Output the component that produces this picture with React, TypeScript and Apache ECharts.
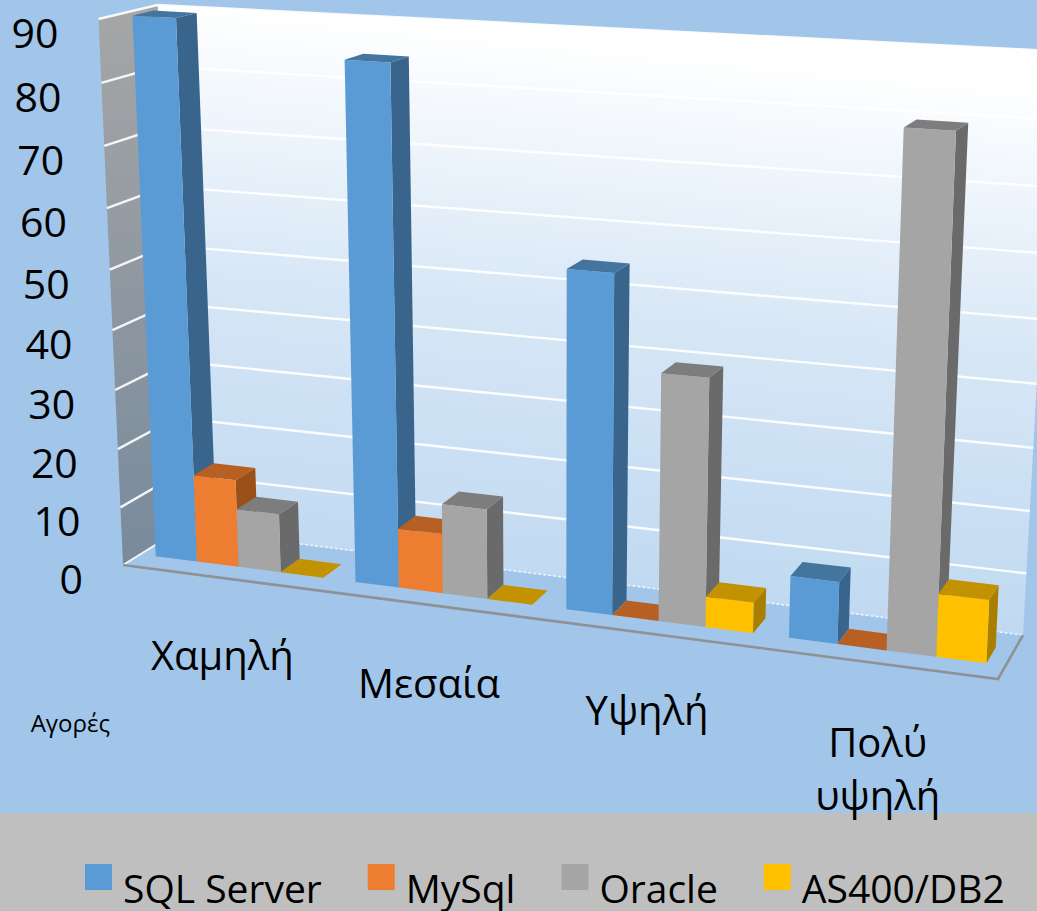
import React, { useEffect, useRef } from "react";
import * as echarts from "echarts";

const categories = ["Χαμηλή", "Μεσαία", "Υψηλή", "Πολύ\nυψηλή"];
const tickValues = [0, 10, 20, 30, 40, 50, 60, 70, 80, 90];
const seriesNames = ["SQL Server", "MySql", "Oracle", "AS400/DB2"];
const sqlServer = [90, 85, 55, 10];
const mySql = [15, 10, 0, 0];
const oracle = [10, 15, 40, 80];
const as400 = [0, 0, 5, 10];
const seriesValues = [sqlServer, mySql, oracle, as400];

const faceColors = [
  { front: "#5B9BD5", top: "#44759F", side: "#39658C" },
  { front: "#ED7D31", top: "#B85F23", side: "#9B5019" },
  { front: "#A5A5A5", top: "#7D7D7D", side: "#6A6A6A" },
  { front: "#FFC000", top: "#C29200", side: "#A87F00" },
];

const FONT = "'Open Sans', 'Noto Sans', sans-serif";
const BG = "#A2C6E9";

// Perspective box of the 3D plot: front/back, left/right, bottom/top corners
const FLB = [123, 565], FRB = [998, 679], FLT = [98.5, 19], FRT = [1022, 71];
const BLB = [181, 529], BRB = [1023, 635], BLT = [157.5, 5], BRT = [1055, 51];
const PERSPECTIVE_U = 1.116;
const PERSPECTIVE_V = 1.06;
const BAR_FRONT = 0.3;
const BAR_BACK = 0.66;
const BAR_SHARE = 1 / 4.75;
const LABEL_DROP = [77, 78, 77, 79];

const mix = (a: number[], b: number[], k: number) => [a[0] + (b[0] - a[0]) * k, a[1] + (b[1] - a[1]) * k];

function project(u: number, t: number, w: number) {
  const uu = u / (PERSPECTIVE_U - (PERSPECTIVE_U - 1) * u);
  const tt = t / (PERSPECTIVE_V - (PERSPECTIVE_V - 1) * t);
  const front = mix(mix(FLB, FRB, uu), mix(FLT, FRT, uu), tt);
  const back = mix(mix(BLB, BRB, uu), mix(BLT, BRT, uu), tt);
  return mix(front, back, w);
}

function toUnit(params: any, p: number[]) {
  const cs = params.coordSys;
  return [(p[0] - cs.x) / cs.width, (cs.y + cs.height - p[1]) / cs.height];
}

const poly = (points: number[][], fill: any, extra: any = {}) => ({
  type: "polygon",
  silent: true,
  shape: { points },
  style: { fill, ...extra },
});

const segment = (points: number[][], stroke: string, lineWidth: number, lineDash?: number[]) => ({
  type: "polyline",
  silent: true,
  shape: { points },
  style: { stroke, lineWidth, fill: "none", lineDash, opacity: 0.9 },
});

function renderStage(params: any, api: any) {
  const ts = tickValues.map((v) => toUnit(params, api.coord([0, v]))[1]);
  const backWall = poly(
    [project(0, 0, 1), project(1, 0, 1), project(1, 1, 1), project(0, 1, 1)],
    new echarts.graphic.LinearGradient(
      210, 5, 150, 620,
      [
        { offset: 0, color: "#FFFFFF" },
        { offset: 0.45, color: "#D6E6F6" },
        { offset: 1, color: "#BAD6F0" },
      ],
      true,
    ),
  );
  const sideWall = poly(
    [project(0, 0, 0), project(0, 0, 1), project(0, 1, 1), project(0, 1, 0)],
    new echarts.graphic.LinearGradient(
      0, 0, 0, 1,
      [
        { offset: 0, color: "#A6A6A6" },
        { offset: 1, color: "#788A9C" },
      ],
    ),
  );
  const children: any[] = [backWall, sideWall];
  ts.forEach((t, i) => {
    if (i === 0) return;
    children.push(segment([project(0, t, 0), project(0, t, 1), project(1, t, 1)], "#FFFFFF", 2.4));
  });
  children.push(segment([project(0, 0, 1), project(1, 0, 1)], "#F4F8FC", 1.5, [3, 2]));
  children.push(segment([project(0, 0, 1), project(0, 0, 0)], "#FFFFFF", 2));
  children.push(segment([project(0, 0, 0), project(1, 0, 0), project(1, 0, 1)], "#8C8C8C", 2.6));
  return { type: "group", children };
}

function makeBarRenderer(seriesIndex: number) {
  const c = faceColors[seriesIndex];
  return (params: any, api: any) => {
    const pt = api.coord([api.value(0), api.value(1)]);
    const zero = api.coord([api.value(0), 0]);
    const band = api.size([1, 0])[0];
    const barPx = band * BAR_SHARE;
    const x0 = pt[0] - 2 * barPx + seriesIndex * barPx;
    const [u0, t] = toUnit(params, [x0, pt[1]]);
    const [u1, t0] = toUnit(params, [x0 + barPx, zero[1]]);
    const f = BAR_FRONT;
    const b = BAR_BACK;
    const children: any[] = [];
    if (api.value(1) > 0) {
      children.push(poly([project(u1, t0, f), project(u1, t0, b), project(u1, t, b), project(u1, t, f)], c.side));
      children.push(poly([project(u0, t0, f), project(u1, t0, f), project(u1, t, f), project(u0, t, f)], c.front));
    }
    children.push(poly([project(u0, t, f), project(u1, t, f), project(u1, t, b), project(u0, t, b)], c.top));
    return { type: "group", children };
  };
}

function renderTickLabel(params: any, api: any) {
  const v = api.value(0);
  const t = toUnit(params, api.coord([0, v]))[1];
  const p = project(0, t, 0);
  return {
    type: "text",
    silent: true,
    style: {
      x: p[0] - 40,
      y: p[1] + 13,
      text: String(v),
      fill: "#000000",
      fontSize: 41,
      fontFamily: FONT,
      align: "right",
      textAlign: "right",
      verticalAlign: "middle",
      textVerticalAlign: "middle",
    },
  };
}

function renderCategoryLabel(params: any, api: any) {
  const i = api.value(0);
  const u = toUnit(params, api.coord([i, 0]))[0];
  const p = project(u, 0, 0);
  return {
    type: "text",
    silent: true,
    style: {
      x: p[0],
      y: p[1] + LABEL_DROP[i] - 27,
      text: categories[i],
      fill: "#000000",
      fontSize: 40,
      lineHeight: 53,
      fontFamily: FONT,
      align: "center",
      textAlign: "center",
      verticalAlign: "top",
      textVerticalAlign: "top",
    },
  };
}

export default function App() {
  const ref = useRef<HTMLDivElement>(null);
  useEffect(() => {
    const chart = echarts.init(ref.current!, undefined, { renderer: "svg" });
    chart.setOption({
      animation: false,
      backgroundColor: BG,
      grid: { left: 125, right: 22, top: 33, height: 544 },
      xAxis: {
        type: "category",
        data: categories,
        axisLine: { show: false },
        axisTick: { show: false },
        axisLabel: { show: false },
        name: "Αγορές",
        nameLocation: "start",
        nameGap: 15,
        nameTextStyle: {
          fontSize: 24,
          fontFamily: FONT,
          color: "#000000",
          verticalAlign: "top",
          padding: [133, 0, 0, 0],
        },
      },
      yAxis: {
        type: "value",
        min: 0,
        max: 90,
        interval: 10,
        axisLine: { show: false },
        axisTick: { show: false },
        axisLabel: { show: false },
        splitLine: { show: false },
      },
      legend: {
        data: seriesNames,
        left: 80,
        top: 842,
        icon: "rect",
        itemWidth: 27,
        itemHeight: 26,
        itemGap: 46,
        selectedMode: false,
        formatter: (name: string) => "\n" + name,
        textStyle: {
          fontSize: 39,
          lineHeight: 21,
          fontFamily: FONT,
          color: "#000000",
          padding: [0, 0, 0, 6],
        },
      },
      graphic: [
        {
          type: "rect",
          silent: true,
          z: 0,
          shape: { x: 0, y: 813, width: 1037, height: 98 },
          style: { fill: "#BFBFBF" },
        },
      ],
      series: [
        {
          type: "custom",
          name: "stage",
          z: 1,
          silent: true,
          data: [[0, 0]],
          encode: { x: 0, y: 1 },
          renderItem: renderStage,
        },
        ...seriesNames.map((name, i) => ({
          type: "custom",
          name,
          z: 2 + i,
          silent: true,
          itemStyle: { color: faceColors[i].front },
          data: seriesValues[i].map((v, k) => [k, v]),
          encode: { x: 0, y: 1 },
          renderItem: makeBarRenderer(i),
        })),
        {
          type: "custom",
          name: "tickLabels",
          z: 8,
          silent: true,
          data: tickValues.map((v) => [v]),
          encode: { y: 0 },
          renderItem: renderTickLabel,
        },
        {
          type: "custom",
          name: "categoryLabels",
          z: 9,
          silent: true,
          data: categories.map((_, i) => [i]),
          encode: { x: 0 },
          renderItem: renderCategoryLabel,
        },
      ],
    });
    return () => chart.dispose();
  }, []);
  return (
    <div
      ref={ref}
      style={{ position: "absolute", left: 0, top: 0, width: 1037, height: 911 }}
    />
  );
}
